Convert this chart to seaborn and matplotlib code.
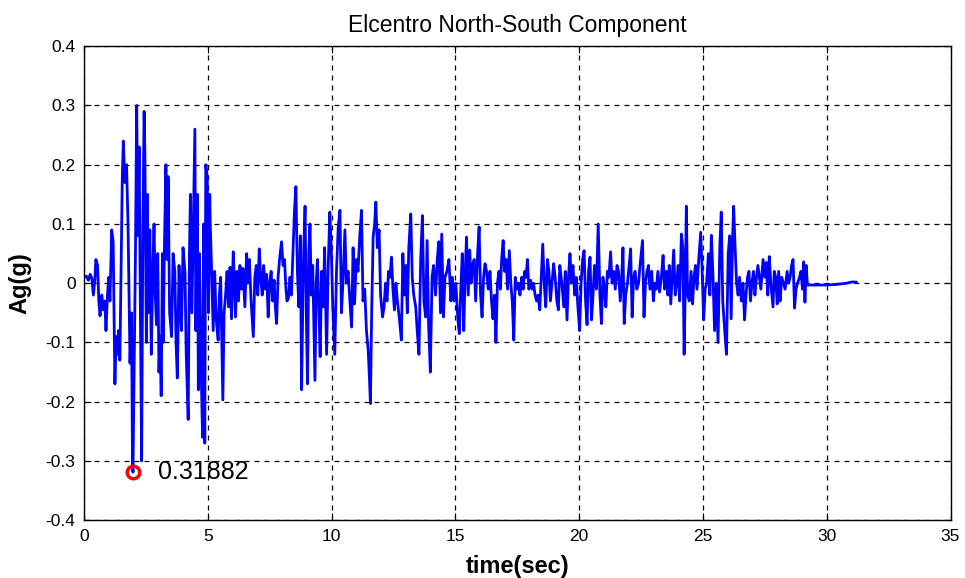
import matplotlib
matplotlib.use("Agg")
import matplotlib.pyplot as plt
from matplotlib import font_manager
import seaborn as sns
import numpy as np

# El Centro NS record (time in s, accel in g)
time_s = [
    0.00, 0.10, 0.18, 0.25, 0.32, 0.38, 0.44, 0.48, 0.55, 0.60,
    0.65, 0.72, 0.78, 0.84, 0.89, 0.95, 1.00, 1.05, 1.12, 1.18,
    1.25, 1.30, 1.36, 1.40, 1.45, 1.50, 1.55, 1.59, 1.65, 1.72,
    1.78, 1.86, 1.92, 1.96, 1.98, 2.04, 2.08, 2.13, 2.18, 2.23,
    2.28, 2.33, 2.38, 2.43, 2.46, 2.52, 2.56, 2.60, 2.66, 2.72,
    2.78, 2.83, 2.88, 2.93, 2.98, 3.03, 3.07, 3.12, 3.17, 3.20,
    3.25, 3.31, 3.36, 3.40, 3.46, 3.54, 3.60, 3.67, 3.72, 3.77,
    3.84, 3.90, 3.94, 4.00, 4.08, 4.13, 4.21, 4.26, 4.30, 4.36,
    4.42, 4.48, 4.52, 4.58, 4.62, 4.66, 4.72, 4.79, 4.83, 4.88,
    4.92, 4.98, 5.03, 5.08, 5.10, 5.15, 5.22, 5.28, 5.34, 5.42,
    5.47, 5.52, 5.57, 5.61, 5.66, 5.72, 5.78, 5.84, 5.90, 5.96,
    6.03, 6.08, 6.12, 6.18, 6.24, 6.30, 6.36, 6.42, 6.50, 6.57,
    6.62, 6.68, 6.75, 6.84, 6.90, 6.96, 7.02, 7.08, 7.14, 7.20,
    7.26, 7.32, 7.38, 7.44, 7.50, 7.56, 7.62, 7.68, 7.73, 7.78,
    7.84, 7.90, 7.98, 8.04, 8.10, 8.16, 8.20, 8.26, 8.32, 8.38,
    8.44, 8.50, 8.56, 8.62, 8.68, 8.74, 8.79, 8.86, 8.93, 8.98,
    9.03, 9.08, 9.13, 9.18, 9.24, 9.33, 9.38, 9.43, 9.48, 9.54,
    9.60, 9.66, 9.72, 9.80, 9.86, 9.93, 9.99, 10.05, 10.13, 10.20,
    10.27, 10.34, 10.40, 10.47, 10.54, 10.60, 10.67, 10.74, 10.81, 10.87,
    10.93, 11.00, 11.07, 11.14, 11.21, 11.27, 11.34, 11.41, 11.48, 11.53,
    11.57, 11.62, 11.68, 11.74, 11.79, 11.85, 11.92, 11.98, 12.06, 12.12,
    12.18, 12.24, 12.30, 12.36, 12.42, 12.48, 12.54, 12.60, 12.66, 12.74,
    12.82, 12.88, 12.94, 13.00, 13.06, 13.12, 13.20, 13.26, 13.32, 13.40,
    13.46, 13.53, 13.60, 13.67, 13.73, 13.80, 13.86, 13.92, 13.99, 14.06,
    14.12, 14.20, 14.27, 14.33, 14.40, 14.45, 14.52, 14.58, 14.66, 14.74,
    14.82, 14.88, 14.95, 15.02, 15.10, 15.16, 15.22, 15.28, 15.34, 15.40,
    15.45, 15.52, 15.58, 15.64, 15.70, 15.76, 15.82, 15.90, 15.96, 16.02,
    16.08, 16.14, 16.20, 16.26, 16.33, 16.40, 16.46, 16.52, 16.58, 16.64,
    16.70, 16.76, 16.82, 16.87, 16.93, 16.99, 17.05, 17.11, 17.18, 17.24,
    17.30, 17.36, 17.42, 17.48, 17.55, 17.61, 17.68, 17.74, 17.80, 17.86,
    17.91, 17.97, 18.04, 18.10, 18.16, 18.22, 18.28, 18.34, 18.41, 18.47,
    18.53, 18.59, 18.65, 18.72, 18.78, 18.84, 18.90, 18.97, 19.03, 19.10,
    19.16, 19.22, 19.30, 19.38, 19.44, 19.51, 19.57, 19.63, 19.69, 19.75,
    19.82, 19.88, 19.95, 20.02, 20.08, 20.14, 20.20, 20.26, 20.32, 20.38,
    20.44, 20.50, 20.56, 20.62, 20.70, 20.77, 20.84, 20.90, 20.96, 21.02,
    21.08, 21.14, 21.20, 21.27, 21.33, 21.40, 21.46, 21.53, 21.59, 21.66,
    21.72, 21.77, 21.82, 21.88, 21.95, 22.02, 22.08, 22.14, 22.20, 22.26,
    22.33, 22.40, 22.46, 22.56, 22.62, 22.68, 22.74, 22.80, 22.86, 22.93,
    23.00, 23.06, 23.12, 23.18, 23.25, 23.32, 23.39, 23.45, 23.52, 23.58,
    23.64, 23.70, 23.76, 23.82, 23.88, 23.94, 24.00, 24.06, 24.13, 24.19,
    24.24, 24.29, 24.33, 24.38, 24.45, 24.52, 24.58, 24.64, 24.70, 24.76,
    24.83, 24.91, 24.97, 25.03, 25.09, 25.15, 25.22, 25.28, 25.34, 25.40,
    25.47, 25.54, 25.61, 25.68, 25.74, 25.80, 25.88, 25.95, 26.02, 26.08,
    26.14, 26.20, 26.24, 26.30, 26.36, 26.42, 26.48, 26.55, 26.62, 26.68,
    26.74, 26.80, 26.86, 26.92, 26.98, 27.04, 27.10, 27.16, 27.22, 27.28,
    27.34, 27.43, 27.50, 27.56, 27.62, 27.68, 27.74, 27.83, 27.88, 27.94,
    28.00, 28.06, 28.12, 28.18, 28.25, 28.32, 28.40, 28.46, 28.52, 28.58,
    28.64, 28.70, 28.76, 28.82, 28.90, 28.96, 29.02, 29.07, 29.12, 29.17,
    29.22, 29.40, 29.97, 30.40, 30.80, 31.00, 31.20,
]
accel_g = [
    0.010, 0.012, 0.005, 0.015, 0.008, -0.020, 0.005, 0.040, 0.030, -0.030,
    -0.055, -0.020, -0.045, -0.030, -0.080, -0.020, 0.010, -0.030, 0.090, 0.070,
    -0.170, -0.090, -0.120, -0.080, -0.130, 0.020, 0.180, 0.240, 0.170, 0.200,
    0.100, -0.135, -0.050, -0.300, -0.319, -0.100, 0.050, 0.300, 0.080, 0.230,
    -0.050, -0.300, 0.100, 0.290, 0.220, -0.100, 0.150, -0.050, 0.090, -0.120,
    0.020, 0.100, -0.020, -0.070, 0.050, -0.150, -0.090, -0.190, 0.050, -0.100,
    0.060, 0.200, 0.040, 0.180, -0.050, -0.090, 0.050, 0.020, -0.100, -0.160,
    0.030, -0.050, -0.080, 0.060, 0.020, -0.120, -0.230, 0.050, 0.150, -0.050,
    0.100, 0.260, -0.080, 0.150, -0.180, 0.050, -0.120, -0.260, 0.100, -0.270,
    0.200, 0.180, -0.050, 0.150, 0.100, 0.030, -0.080, 0.020, -0.060, -0.096,
    -0.020, 0.010, -0.100, -0.197, -0.050, -0.020, 0.020, -0.040, 0.027, -0.060,
    0.053, 0.000, -0.057, 0.020, -0.030, 0.030, -0.010, 0.025, -0.040, 0.050,
    0.000, 0.040, -0.030, -0.090, 0.010, 0.030, -0.020, 0.058, 0.010, -0.020,
    0.030, -0.010, 0.015, -0.057, 0.000, 0.020, -0.030, 0.005, -0.040, -0.068,
    0.010, 0.040, 0.070, 0.030, 0.040, -0.010, -0.030, -0.025, 0.010, -0.020,
    0.050, 0.120, 0.163, 0.020, -0.040, 0.080, -0.180, 0.030, 0.130, -0.050,
    -0.170, 0.050, 0.100, -0.020, 0.030, -0.164, 0.000, 0.040, -0.030, -0.124,
    0.020, -0.040, 0.060, -0.120, 0.020, 0.120, 0.056, -0.040, -0.120, 0.020,
    0.095, 0.123, -0.050, 0.010, 0.090, 0.000, 0.020, -0.030, -0.074, 0.060,
    -0.035, 0.040, 0.020, 0.080, 0.123, -0.030, -0.010, -0.080, -0.113, -0.160,
    -0.203, -0.050, 0.078, 0.100, 0.137, 0.060, 0.090, -0.020, -0.057, -0.040,
    0.000, -0.030, 0.020, 0.010, 0.044, -0.010, -0.045, 0.000, -0.030, -0.060,
    -0.096, 0.050, -0.020, 0.030, -0.050, 0.060, 0.117, 0.010, -0.020, -0.040,
    -0.080, -0.120, 0.040, 0.114, -0.030, -0.057, 0.072, -0.070, -0.150, 0.010,
    0.030, -0.020, 0.040, 0.070, -0.050, 0.083, -0.057, 0.010, 0.020, 0.040,
    -0.030, 0.010, -0.030, 0.000, -0.060, -0.085, -0.010, 0.050, -0.080, 0.020,
    0.078, -0.020, 0.056, 0.000, 0.030, 0.040, -0.030, 0.050, 0.095, -0.020,
    -0.057, 0.010, 0.033, 0.020, -0.010, 0.020, -0.030, -0.060, -0.020, -0.100,
    0.000, 0.020, -0.010, 0.040, 0.072, 0.020, 0.040, -0.010, 0.055, 0.000,
    -0.030, -0.096, 0.010, -0.010, 0.000, -0.020, 0.010, -0.010, 0.020, 0.010,
    0.040, -0.010, 0.005, -0.010, 0.000, -0.020, -0.030, -0.020, -0.045, 0.010,
    0.066, 0.000, -0.040, 0.040, 0.020, -0.030, 0.000, 0.033, 0.010, -0.030,
    -0.045, 0.030, 0.000, -0.040, 0.020, -0.062, 0.010, 0.050, 0.000, 0.030,
    -0.020, 0.010, -0.040, -0.080, 0.000, 0.040, 0.055, -0.030, -0.070, 0.020,
    0.044, -0.062, -0.020, 0.030, -0.010, 0.100, -0.020, -0.068, 0.010, -0.010,
    -0.040, 0.020, 0.010, 0.053, 0.000, 0.020, -0.010, 0.030, 0.020, -0.030,
    0.010, 0.060, -0.068, -0.020, 0.000, 0.030, 0.058, -0.057, 0.010, 0.020,
    -0.010, 0.000, 0.030, 0.072, -0.057, 0.000, 0.020, 0.030, -0.010, 0.020,
    -0.030, 0.000, -0.010, 0.020, -0.015, 0.010, 0.047, -0.010, 0.020, -0.020,
    0.030, -0.035, 0.010, 0.056, -0.020, 0.000, 0.030, -0.030, 0.083, 0.060,
    -0.120, 0.000, 0.130, -0.020, -0.030, 0.020, -0.035, 0.010, 0.030, -0.010,
    0.040, 0.086, 0.020, -0.062, -0.010, 0.000, 0.050, -0.020, 0.081, 0.020,
    -0.080, 0.000, -0.100, 0.060, 0.120, -0.030, -0.080, -0.120, 0.050, 0.080,
    -0.060, 0.080, 0.130, 0.060, 0.000, -0.020, 0.010, -0.030, 0.000, -0.062,
    -0.020, 0.010, 0.020, -0.030, 0.000, 0.020, -0.020, 0.010, 0.030, 0.010,
    -0.010, 0.040, 0.010, 0.035, -0.020, 0.045, 0.000, -0.040, 0.020, 0.010,
    -0.035, 0.020, -0.030, 0.010, 0.000, -0.010, 0.020, 0.000, 0.010, 0.030,
    0.040, -0.042, -0.010, 0.000, 0.010, 0.020, -0.010, 0.036, -0.032, 0.030,
    -0.003, -0.003, -0.003, -0.002, 0.000, 0.002, 0.002,
]
assert len(time_s) == len(accel_g)

peak_t = 1.98
peak_val = -0.319
peak_text = "0.31882"

x_ticks = [0, 5, 10, 15, 20, 25, 30, 35]
y_ticks = [-0.4, -0.3, -0.2, -0.1, 0, 0.1, 0.2, 0.3, 0.4]
y_tick_labels = ['-0.4', '-0.3', '-0.2', '-0.1', '0', '0.1', '0.2', '0.3', '0.4']

sns.set_style("white")
plt.rcParams['font.family'] = ['Liberation Sans', 'DejaVu Sans']
plt.rcParams['text.color'] = 'black'
plt.rcParams['axes.labelcolor'] = 'black'
plt.rcParams['xtick.color'] = 'black'
plt.rcParams['ytick.color'] = 'black'

# narrow font for tick labels if installed (MATLAB look)
names = {f.name for f in font_manager.fontManager.ttflist}
tick_family = 'Liberation Sans Narrow' if 'Liberation Sans Narrow' in names else 'Liberation Sans'
tick_size = 14 if tick_family == 'Liberation Sans Narrow' else 12.5

fig = plt.figure(figsize=(9.65, 5.78), dpi=100)
ax = fig.add_axes([0.087, 0.100, 0.898, 0.820])

sns.lineplot(x=time_s, y=accel_g, ax=ax, color='#0000ff', linewidth=2,
             estimator=None, sort=False)

# peak marker + label
ax.plot(peak_t, peak_val, 'o', ms=9, mfc='none', mec='red', mew=2.5, zorder=5)
ax.text(peak_t + 1.0, peak_val, peak_text, fontsize=18, va='center', ha='left',
        color='black')

ax.set_xlim(0, 35)
ax.set_ylim(-0.4, 0.4)
ax.set_xticks(x_ticks)
ax.set_yticks(y_ticks)
ax.set_xticklabels([str(v) for v in x_ticks], family=tick_family, fontsize=tick_size)
ax.set_yticklabels(y_tick_labels, family=tick_family, fontsize=tick_size)
ax.tick_params(axis='x', direction='in', length=5, top=True, bottom=True, pad=6)
ax.tick_params(axis='y', direction='in', length=5, left=True, right=True, pad=6)
ax.grid(True, color='black', linestyle=(0, (4, 4)), linewidth=0.9)
for s in ax.spines.values():
    s.set_color('black')
    s.set_linewidth(1)

ax.set_title("Elcentro North-South Component", fontsize=16.5, pad=10, color='black')
ax.set_xlabel("time(sec)", fontsize=17, fontweight='bold', labelpad=8)
ax.set_ylabel("Ag(g)", fontsize=17, fontweight='bold', labelpad=10)

fig.savefig("out.png", dpi=100)
